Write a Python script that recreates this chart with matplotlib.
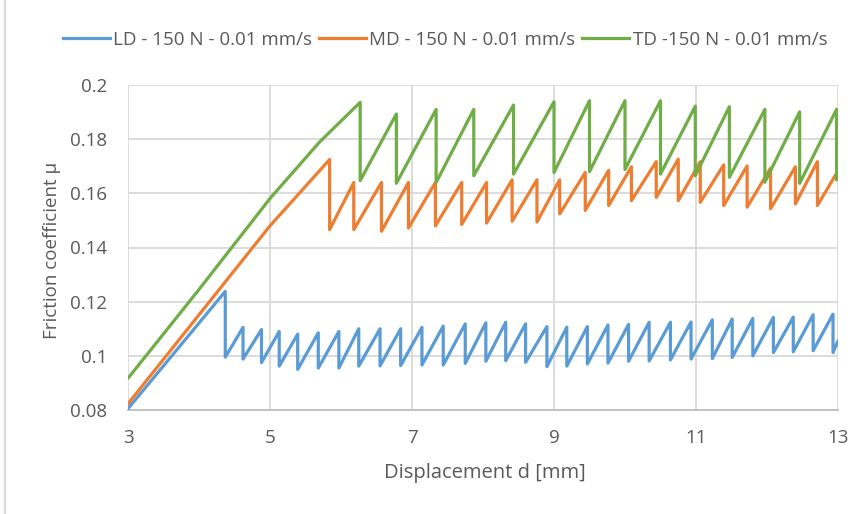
import matplotlib
matplotlib.use("Agg")
import matplotlib.pyplot as plt
from matplotlib.lines import Line2D
from matplotlib import font_manager

# ---------------- data ----------------
legend_labels = ["LD - 150 N - 0.01 mm/s", "MD - 150 N - 0.01 mm/s", "TD -150 N - 0.01 mm/s"]

# LD
ld_start_x = [3.0]
ld_start_y = [0.0805]
ld_peak_x = [4.37, 4.62, 4.88, 5.13, 5.39, 5.68, 5.97, 6.25, 6.55, 6.84, 7.14, 7.44, 7.75,
             8.04, 8.32, 8.60, 8.90, 9.18, 9.47, 9.76, 10.05, 10.34, 10.64, 10.93, 11.23,
             11.51, 11.80, 12.09, 12.37, 12.65, 12.93]
ld_peak_y = [0.1238, 0.1105, 0.1097, 0.1090, 0.1080, 0.1085, 0.1090, 0.1100, 0.1100, 0.1100,
             0.1105, 0.1110, 0.1118, 0.1122, 0.1124, 0.1118, 0.1108, 0.1106, 0.1108, 0.1114,
             0.1116, 0.1124, 0.1124, 0.1125, 0.1133, 0.1136, 0.1138, 0.1142, 0.1143, 0.1152,
             0.1154]
ld_trough_y = [0.0995, 0.0988, 0.0975, 0.0962, 0.0950, 0.0955, 0.0955, 0.0962, 0.0963, 0.0964,
               0.0966, 0.0966, 0.0972, 0.0980, 0.0982, 0.0976, 0.0960, 0.0962, 0.0970, 0.0973,
               0.0980, 0.0981, 0.0985, 0.0988, 0.0990, 0.0994, 0.1000, 0.1012, 0.1015, 0.1019,
               0.1012]
ld_end_x = [13.0]
ld_end_y = [0.1055]

# MD
md_start_x = [3.0, 5.0]
md_start_y = [0.0823, 0.1480]
md_peak_x = [5.84, 6.18, 6.57, 6.95, 7.33, 7.70, 8.05, 8.41, 8.76, 9.08, 9.44, 9.77, 10.09,
             10.44, 10.75, 11.06, 11.39, 11.72, 12.05, 12.40, 12.71]
md_peak_y = [0.1725, 0.1640, 0.1640, 0.1640, 0.1640, 0.1640, 0.1640, 0.1650, 0.1650, 0.1650,
             0.1677, 0.1685, 0.1698, 0.1717, 0.1726, 0.1717, 0.1705, 0.1701, 0.1693, 0.1698,
             0.1717]
md_trough_y = [0.1466, 0.1466, 0.1460, 0.1472, 0.1480, 0.1485, 0.1490, 0.1497, 0.1494, 0.1524,
               0.1537, 0.1555, 0.1573, 0.1585, 0.1573, 0.1567, 0.1555, 0.1549, 0.1543, 0.1561,
               0.1555]
md_end_x = [13.0]
md_end_y = [0.1683]

# TD
td_start_x = [3.0, 4.0, 5.0, 5.7]
td_start_y = [0.0917, 0.1245, 0.1581, 0.1790]
td_peak_x = [6.27, 6.78, 7.34, 7.87, 8.43, 9.00, 9.50, 10.00, 10.50, 10.99, 11.47, 11.97,
             12.46, 12.98]
td_peak_y = [0.1936, 0.1893, 0.1910, 0.1910, 0.1926, 0.1938, 0.1942, 0.1942, 0.1942, 0.1922,
             0.1920, 0.1910, 0.1901, 0.1910]
td_trough_y = [0.1647, 0.1637, 0.1640, 0.1665, 0.1671, 0.1677, 0.1680, 0.1688, 0.1671, 0.1665,
               0.1659, 0.1641, 0.1637, 0.1650]
td_end_x = []
td_end_y = []

x_ticks = [3, 5, 7, 9, 11, 13]
y_ticks = [0.08, 0.10, 0.12, 0.14, 0.16, 0.18, 0.20]
y_tick_labels = ["0.08", "0.1", "0.12", "0.14", "0.16", "0.18", "0.2"]

colors = ["#5B9BD5", "#ED7D31", "#70AD47"]


def build(sx, sy, px, py, ty, ex, ey):
    xs, ys = list(sx), list(sy)
    for x, p, t in zip(px, py, ty):
        xs += [x, x]
        ys += [p, t]
    xs += list(ex)
    ys += list(ey)
    return xs, ys


# ---------------- fonts ----------------
avail = {f.name for f in font_manager.fontManager.ttflist}
fam = [f for f in ["Open Sans", "DejaVu Sans"] if f in avail]
plt.rcParams["font.family"] = fam

text_col = "#595959"
grid_col = "#D9D9D9"

fig = plt.figure(figsize=(8.65, 5.14), dpi=100)
W, H = 865, 514
ax = fig.add_axes([128 / W, 1 - 410 / H, (838 - 128) / W, (410 - 85) / H])

series = [
    build(ld_start_x, ld_start_y, ld_peak_x, ld_peak_y, ld_trough_y, ld_end_x, ld_end_y),
    build(md_start_x, md_start_y, md_peak_x, md_peak_y, md_trough_y, md_end_x, md_end_y),
    build(td_start_x, td_start_y, td_peak_x, td_peak_y, td_trough_y, td_end_x, td_end_y),
]
for (xs, ys), c, lab in zip(series, colors, legend_labels):
    ax.plot(xs, ys, color=c, lw=2.3, label=lab, solid_joinstyle="round",
            solid_capstyle="round", zorder=3)

ax.set_xlim(3, 13)
ax.set_ylim(0.08, 0.2)
ax.set_xticks(x_ticks)
ax.set_xticklabels([str(v) for v in x_ticks])
ax.set_yticks(y_ticks)
ax.set_yticklabels(y_tick_labels)
ax.grid(True, color=grid_col, lw=1.3, zorder=0)
ax.set_axisbelow(True)
for s in ["top", "right", "left"]:
    ax.spines[s].set_visible(False)
ax.spines["bottom"].set_color("#BFBFBF")
ax.spines["bottom"].set_linewidth(1.3)
ax.tick_params(axis="both", length=0, colors=text_col, labelsize=13.5)
ax.tick_params(axis="y", pad=15)
ax.tick_params(axis="x", pad=14)

ax.set_xlabel("Displacement d [mm]", color=text_col, fontsize=14.5)
ax.xaxis.set_label_coords(0.503, -0.163)
ax.set_ylabel("Friction coefficient μ", color=text_col, fontsize=13.5)
ax.yaxis.set_label_coords(-0.095, 0.49)

handles = [Line2D([0], [0], color=c, lw=2.3) for c in colors]
fig.legend(handles, legend_labels, loc="center", bbox_to_anchor=(445 / W, 1 - 40 / H),
           ncol=3, frameon=False, fontsize=13.5, labelcolor=text_col,
           handlelength=2.5, handletextpad=0.2, columnspacing=0.35)

fig.add_artist(Line2D([4.5 / W, 4.5 / W], [0, 1], transform=fig.transFigure,
                      color=grid_col, lw=1.5))

fig.savefig("out.png", dpi=100, facecolor="white")
